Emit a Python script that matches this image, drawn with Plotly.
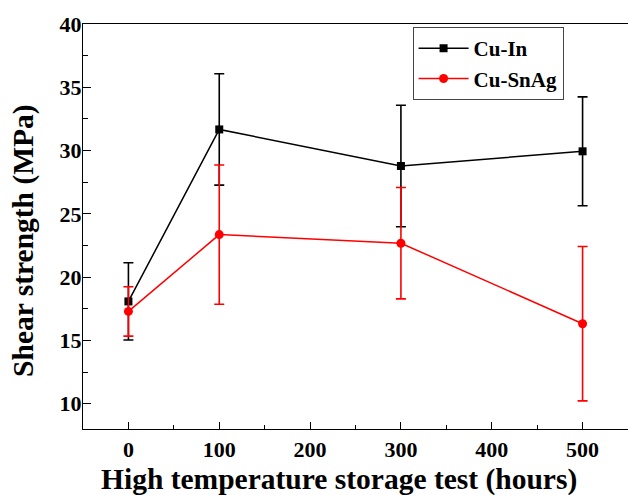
import plotly.graph_objects as go

hours = [0, 100, 300, 500]
cu_in = [18.08, 31.67, 28.78, 29.94]
cu_in_err = [3.05, 4.40, 4.80, 4.30]
cu_snag = [17.29, 23.36, 22.68, 16.32]
cu_snag_err = [1.95, 5.50, 4.40, 6.10]

x_ticks = [0, 100, 200, 300, 400, 500]
y_ticks = [10, 15, 20, 25, 30, 35, 40]

FONT = "Liberation Serif"
PL, PT, PW, PH = 83, 24, 545.7, 405.3

fig = go.Figure()
fig.add_trace(go.Scatter(
    x=hours, y=cu_in, name="<b>Cu-In</b>", mode="lines+markers",
    line=dict(color="black", width=1.5),
    marker=dict(symbol="square", size=8, color="black"),
    error_y=dict(type="data", array=cu_in_err, visible=True, color="black", thickness=1.6, width=5),
))
fig.add_trace(go.Scatter(
    x=hours, y=cu_snag, name="<b>Cu-SnAg</b>", mode="lines+markers",
    line=dict(color="#ff0000", width=1.5),
    marker=dict(symbol="circle", size=9, color="#ff0000"),
    error_y=dict(type="data", array=cu_snag_err, visible=True, color="#ff0000", thickness=1.6, width=5),
))

fig.update_layout(
    width=628, height=495,
    margin=dict(l=PL, r=0, t=PT, b=66),
    plot_bgcolor="white", paper_bgcolor="white",
    font=dict(family=FONT, color="black"),
    showlegend=True,
    legend=dict(
        x=(413 - PL) / PW, y=1 - (27 - PT) / PH, xanchor="left", yanchor="top",
        bordercolor="#444", borderwidth=1, bgcolor="white",
        font=dict(family=FONT, size=21, color="black"),
        tracegroupgap=0, itemwidth=50,
    ),
    xaxis=dict(
        range=[-50, 550], tickvals=x_ticks, ticktext=[f"<b>{v}</b>" for v in x_ticks],
        ticks="inside", ticklen=7, tickwidth=1.3, tickcolor="black",
        minor=dict(ticks="inside", ticklen=4, dtick=50, tick0=0, tickwidth=1.3, tickcolor="black"),
        showline=True, linecolor="black", linewidth=1.3, mirror=True,
        showgrid=False, zeroline=False,
        tickfont=dict(family=FONT, size=22),
    ),
    yaxis=dict(
        range=[8, 40], tickvals=y_ticks, ticktext=[f"<b>{v}</b>" for v in y_ticks],
        ticks="inside", ticklen=8, tickwidth=1.3, tickcolor="black",
        minor=dict(ticks="inside", ticklen=5, dtick=2.5, tick0=0, tickwidth=1.3, tickcolor="black"),
        showline=True, linecolor="black", linewidth=1.3,
        showgrid=False, zeroline=False,
        tickfont=dict(family=FONT, size=22),
        ticklabelstandoff=-4,
    ),
    annotations=[
        dict(
            text="<b>High temperature storage test (hours)</b>", xref="paper", yref="paper",
            x=(339 - PL) / PW, y=-(480 - (PT + PH)) / PH, xanchor="center", yanchor="middle", showarrow=False,
            font=dict(family=FONT, size=29.5, color="black"),
        ),
        dict(
            text="<b>Shear strength (MPa)</b>", xref="paper", yref="paper", textangle=-90,
            x=-(PL - 24) / PW, y=1 - (241 - PT) / PH, xanchor="center", yanchor="middle", showarrow=False,
            font=dict(family=FONT, size=29.5, color="black"),
        ),
    ],
)

fig.write_html("out.html")
